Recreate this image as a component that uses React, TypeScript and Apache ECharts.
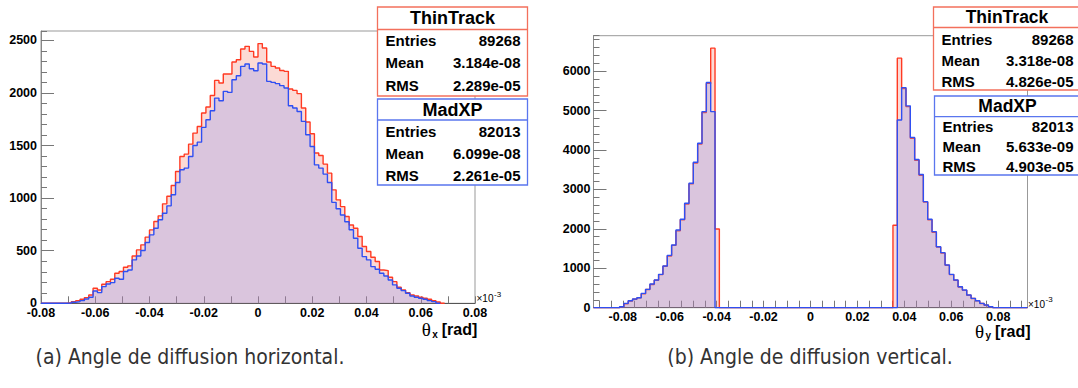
import React, { useEffect, useRef } from 'react';
import * as echarts from 'echarts';

// Histogram binning (100 bins per chart)
const leftMin = -0.08;
const leftMax = 0.08;
const leftBin = 0.0016;
const rightMin = -0.0925;
const rightMax = 0.0925;
const rightBin = 0.00185;

// Right chart axis ticks / labels
const rightTickLabels = [-0.08, -0.06, -0.04, -0.02, 0, 0.02, 0.04, 0.06, 0.08];
const rightTickStep = 0.005;

// theta_x  (x 10^-3 rad)
const thinTrackX = [
  0, 0, 0, 0, 0, 0, 0, 5, 16, 25,
  38, 54, 79, 143, 127, 181, 206, 229, 286, 302,
  343, 356, 450, 508, 556, 629, 698, 778, 832, 946,
  1018, 1120, 1253, 1396, 1419, 1514, 1619, 1682, 1810, 1867,
  1977, 2120, 2095, 2181, 2181, 2295, 2317, 2419, 2444, 2396,
  2343, 2470, 2429, 2295, 2254, 2238, 2215, 2206, 2038, 2025,
  1994, 1857, 1724, 1612, 1429, 1406, 1324, 1238, 1079, 984,
  920, 825, 745, 714, 635, 540, 492, 438, 397, 317,
  311, 248, 206, 152, 127, 102, 79, 70, 57, 48,
  38, 25, 13, 0, 0, 0, 0, 0, 0, 0,
];
const madXPX = [
  0, 0, 0, 0, 0, 0, 0, 3, 10, 16,
  25, 41, 57, 117, 102, 159, 184, 197, 238, 229,
  302, 317, 413, 450, 502, 578, 651, 714, 794, 857,
  927, 1032, 1149, 1270, 1286, 1396, 1501, 1533, 1673, 1746,
  1831, 1952, 1927, 2016, 2006, 2127, 2165, 2254, 2276, 2231,
  2212, 2286, 2276, 2111, 2101, 2089, 2070, 2048, 1879, 1857,
  1825, 1730, 1603, 1492, 1317, 1286, 1229, 1149, 960, 900,
  840, 775, 700, 619, 524, 444, 413, 349, 324, 286,
  260, 222, 175, 143, 121, 95, 70, 57, 48, 38,
  25, 16, 0, 0, 0, 0, 0, 0, 0, 0,
];

// theta_y  (x 10^-3 rad)
const thinTrackY = [
  0, 0, 0, 0, 0, 0, 0, 20, 100, 170,
  215, 250, 350, 460, 590, 695, 840, 1050, 1310, 1580,
  1950, 2230, 2630, 3140, 3670, 4150, 4950, 5690, 6584, 1997,
  0, 0, 0, 0, 0, 0, 0, 0, 0, 0,
  0, 0, 0, 0, 0, 0, 0, 0, 0, 0,
  0, 0, 0, 0, 0, 0, 0, 0, 0, 0,
  0, 0, 0, 0, 0, 0, 0, 0, 0, 0,
  2090, 6330, 5560, 5100, 4300, 3740, 3360, 2680, 2230, 1915,
  1540, 1385, 1075, 840, 695, 525, 440, 315, 232, 172,
  105, 64, 22, 0, 0, 0, 0, 0, 0, 0,
];
const madXPY = [
  0, 0, 0, 0, 0, 0, 0, 25, 110, 178,
  220, 254, 364, 465, 600, 702, 846, 1058, 1328, 1590,
  1971, 2242, 2648, 3156, 3689, 4171, 4975, 5711, 4975, 0,
  0, 0, 0, 0, 0, 0, 0, 0, 0, 0,
  0, 0, 0, 0, 0, 0, 0, 0, 0, 0,
  0, 0, 0, 0, 0, 0, 0, 0, 0, 0,
  0, 0, 0, 0, 0, 0, 0, 0, 0, 0,
  0, 4763, 5584, 5120, 4320, 3760, 3380, 2690, 2242, 1929,
  1548, 1396, 1083, 846, 702, 533, 448, 321, 237, 178,
  110, 68, 25, 0, 0, 0, 0, 0, 0, 0,
];

const statLabels = ['Entries', 'Mean', 'RMS'];
const thinXStats = ['89268', '3.184e-08', '2.289e-05'];
const madXStats = ['82013', '6.099e-08', '2.261e-05'];
const thinYStats = ['89268', '3.318e-08', '4.826e-05'];
const madYStats = ['82013', '5.633e-09', '4.903e-05'];
const seriesNames = ['ThinTrack', 'MadXP'];
const captions = ['(a) Angle de diffusion horizontal.', '(b) Angle de diffusion vertical.'];

const RED = '#ff3a22';
const BLUE = '#2f4ff2';
const RED_BOX = '#f3705c';
const BLUE_BOX = '#5a76ee';
const RED_FILL = 'rgba(245,120,100,0.27)';
const BLUE_FILL = 'rgba(120,140,245,0.26)';
const FONT = 'Liberation Sans, Arial, sans-serif';

function stepPoints(vals: number[], min: number, width: number, trim: boolean) {
  let n = vals.length;
  if (trim) {
    while (n > 0 && vals[n - 1] === 0) n--;
  }
  const pts: number[][] = [];
  for (let k = 0; k < n; k++) pts.push([min + k * width, vals[k]]);
  pts.push([min + n * width, 0]);
  return pts;
}

function xLabel(v: number) {
  const n = Math.round(v * 1000);
  if (n % 20 !== 0) return '';
  if (n === 0) return '0';
  return (n / 1000).toFixed(2);
}

function tickPositions(min: number, max: number, step: number) {
  const out: number[] = [];
  const start = Math.ceil(min / step - 1e-9);
  const end = Math.floor(max / step + 1e-9);
  for (let i = start; i <= end; i++) out.push(Number((i * step).toFixed(6)));
  return out;
}

function statBox(
  x: number, y: number, w: number, h: number, divY: number, color: string,
  title: string, titleY: number, titleSize: number, rowsY: number[], values: string[], rowSize: number
) {
  const els: any[] = [
    { type: 'rect', z: 100, shape: { x, y, width: w, height: h }, style: { fill: '#fff', stroke: color, lineWidth: 1.3 } },
    { type: 'line', z: 101, shape: { x1: x, y1: divY, x2: x + w, y2: divY }, style: { stroke: color, lineWidth: 1.3 } },
    {
      type: 'text', z: 102, x: x + w / 2, y: titleY,
      style: { text: title, fill: '#000', font: `bold ${titleSize}px ${FONT}`, align: 'center', verticalAlign: 'middle' },
    },
  ];
  statLabels.forEach((lab, i) => {
    els.push({
      type: 'text', z: 102, x: x + 8, y: rowsY[i],
      style: { text: lab, fill: '#000', font: `bold ${rowSize}px ${FONT}`, align: 'left', verticalAlign: 'middle' },
    });
    els.push({
      type: 'text', z: 102, x: x + w - 7, y: rowsY[i],
      style: { text: values[i], fill: '#000', font: `bold ${rowSize}px ${FONT}`, align: 'right', verticalAlign: 'middle' },
    });
  });
  return els;
}

function axisTitle(xTheta: number, y: number, sub: string) {
  return [
    { type: 'text', z: 102, x: xTheta, y, style: { text: 'θ', fill: '#000', font: `19px Liberation Serif, serif`, align: 'left', verticalAlign: 'middle' } },
    { type: 'text', z: 102, x: xTheta + 10.5, y: y + 4.5, style: { text: sub, fill: '#000', font: `bold 10px ${FONT}`, align: 'left', verticalAlign: 'middle' } },
    { type: 'text', z: 102, x: xTheta + 20, y, style: { text: '[rad]', fill: '#000', font: `bold 16px ${FONT}`, align: 'left', verticalAlign: 'middle' } },
  ];
}

function exponent(x: number, y: number) {
  return [
    { type: 'text', z: 102, x, y, style: { text: '×10', fill: '#000', font: `10px ${FONT}`, align: 'left', verticalAlign: 'middle' } },
    { type: 'text', z: 102, x: x + 17.5, y: y - 4.5, style: { text: '-3', fill: '#000', font: `8px ${FONT}`, align: 'left', verticalAlign: 'middle' } },
  ];
}

const xLabelStyle = { fontSize: 12.5, fontWeight: 'bold', fontFamily: FONT, color: '#000' };

function xAxisLeft() {
  return {
    gridIndex: 0, type: 'value', min: leftMin, max: leftMax, interval: 0.01,
    axisLine: { show: true, onZero: false, lineStyle: { color: '#555', width: 1 } },
    axisTick: { show: true, inside: true, length: 7, lineStyle: { color: '#777' } },
    splitLine: { show: false },
    axisLabel: { formatter: xLabel, margin: 3, showMinLabel: true, showMaxLabel: true, ...xLabelStyle },
  };
}

function xAxisRight() {
  return {
    gridIndex: 1, type: 'value', min: rightMin, max: rightMax,
    axisLine: { show: true, onZero: false, lineStyle: { color: '#555', width: 1 } },
    axisTick: {
      show: true, inside: true, length: 7, lineStyle: { color: '#777' },
      customValues: tickPositions(rightMin, rightMax, rightTickStep),
    },
    splitLine: { show: false },
    axisLabel: { formatter: xLabel, margin: 3, customValues: rightTickLabels, ...xLabelStyle },
  };
}

function yAxisCfgs(grid: number, max: number, major: number, minor: number, margin: number) {
  return [
    {
      gridIndex: grid, type: 'value', min: 0, max, interval: major, position: 'left',
      axisLine: { show: true, onZero: false, lineStyle: { color: '#888' } },
      axisTick: { show: true, inside: true, length: 13, lineStyle: { color: '#777' } },
      splitLine: { show: false },
      axisLabel: {
        formatter: (v: number) => (v % major === 0 ? String(v) : ''),
        margin, fontSize: 12.5, fontWeight: 'bold', fontFamily: FONT, color: '#000', showMaxLabel: false,
      },
    },
    {
      gridIndex: grid, type: 'value', min: 0, max, interval: minor, position: 'left',
      axisLine: { show: false, onZero: false },
      axisTick: { show: true, inside: true, length: 6, lineStyle: { color: '#777' } },
      splitLine: { show: false },
      axisLabel: { show: false },
    },
  ];
}

function histSeries(name: string, data: number[][], xi: number, yi: number, line: string, fill: string, z: number) {
  return {
    name, type: 'line', step: 'start', xAxisIndex: xi, yAxisIndex: yi, data,
    symbol: 'none', showSymbol: false, clip: true, z,
    lineStyle: { color: line, width: 1.4 },
    areaStyle: { color: fill, opacity: 1 },
  };
}

function buildOption() {
  const capFont = `21px DejaVu Sans Condensed, DejaVu Sans, sans-serif`;
  const graphic: any[] = [
    ...statBox(377.5, 7, 150, 89, 29.5, RED_BOX, seriesNames[0], 18, 18, [40.7, 62.7, 85], thinXStats, 15),
    ...statBox(377.5, 99, 150, 86, 120, BLUE_BOX, seriesNames[1], 110, 18, [131.7, 153.3, 175], madXStats, 15),
    ...statBox(933.5, 7, 147, 83, 27.5, RED_BOX, seriesNames[0], 17, 17.5, [39.3, 60, 81], thinYStats, 15),
    ...statBox(934.5, 96, 146, 79, 116.7, BLUE_BOX, seriesNames[1], 106, 17.5, [126, 146, 166], madYStats, 15),
    ...axisTitle(421.7, 329.5, 'x'),
    ...axisTitle(975, 331, 'y'),
    ...exponent(476.5, 298.5),
    ...exponent(1028, 304),
    {
      type: 'text', z: 102, x: 190, y: 357,
      style: { text: captions[0], fill: '#333', font: capFont, align: 'center', verticalAlign: 'middle' },
    },
    {
      type: 'text', z: 102, x: 810, y: 357,
      style: { text: captions[1], fill: '#333', font: capFont, align: 'center', verticalAlign: 'middle' },
    },
  ];

  return {
    animation: false,
    backgroundColor: '#fff',
    grid: [
      { left: 41, top: 31, width: 434, height: 272.3, show: true, borderColor: '#999', borderWidth: 1 },
      { left: 593.5, top: 35.7, width: 434, height: 272, show: true, borderColor: '#999', borderWidth: 1 },
    ],
    xAxis: [xAxisLeft(), xAxisRight()],
    yAxis: [
      ...yAxisCfgs(0, 2590, 500, 100, 4),
      ...yAxisCfgs(1, 6900, 1000, 200, 3),
    ],
    series: [
      histSeries(seriesNames[0], stepPoints(thinTrackX, leftMin, leftBin, true), 0, 0, RED, RED_FILL, 3),
      histSeries(seriesNames[1], stepPoints(madXPX, leftMin, leftBin, true), 0, 0, BLUE, BLUE_FILL, 4),
      histSeries(seriesNames[0], stepPoints(thinTrackY, rightMin, rightBin, false), 1, 2, RED, RED_FILL, 3),
      histSeries(seriesNames[1], stepPoints(madXPY, rightMin, rightBin, false), 1, 2, BLUE, BLUE_FILL, 4),
    ],
    graphic,
  };
}

export default function App() {
  const ref = useRef<HTMLDivElement>(null);
  useEffect(() => {
    document.body.style.margin = '0';
    const chart = echarts.init(ref.current as HTMLDivElement, null, { renderer: 'svg' });
    chart.setOption(buildOption() as any);
    return () => chart.dispose();
  }, []);
  return (
    <div
      ref={ref}
      style={{ position: 'absolute', left: 0, top: 0, width: 1078, height: 388, background: '#fff' }}
    />
  );
}
